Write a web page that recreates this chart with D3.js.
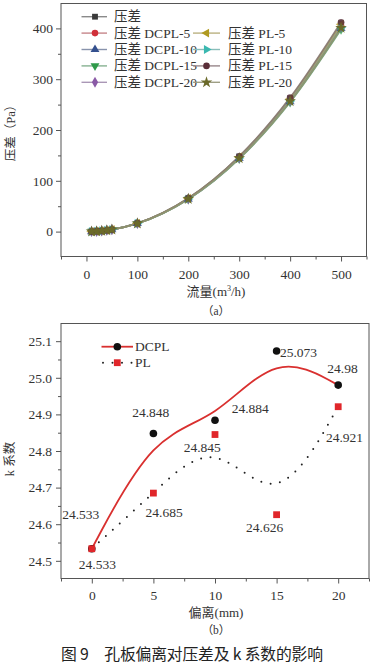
<!DOCTYPE html>
<html><head><meta charset="utf-8">
<script src="https://cdn.jsdelivr.net/npm/d3@7"></script>
<style>
body{margin:0;background:#fff;}
svg{display:block;}
svg text{font-family:"Liberation Serif","DejaVu Serif","Noto Sans CJK SC",serif !important;fill:#333;}
svg text.cap{font-family:"Noto Sans CJK SC",sans-serif !important;fill:#222;}
</style></head><body>
<svg id="c" width="379" height="669"></svg>
<script>
// ---- Data (a) ----
const flow = [10, 20, 30, 40, 50, 100, 200, 300, 400, 500];
const seriesNames = ["压差","压差 DCPL-5","压差 DCPL-10","压差 DCPL-15","压差 DCPL-20","压差 PL-5","压差 PL-10","压差 PL-15","压差 PL-20"];
const dp0    = [0.2, 0.7, 1.5, 2.6, 4.1, 16.4, 65.6, 147.6, 262.4, 410];
const dpD5   = [0.2, 0.7, 1.5, 2.6, 4.0, 16.2, 64.8, 145.8, 259.2, 405];
const dpD10  = [0.2, 0.6, 1.4, 2.6, 4.0, 16.0, 64.0, 144.0, 256.0, 400];
const dpD15  = [0.2, 0.6, 1.4, 2.5, 4.0, 15.9, 63.7, 143.3, 254.7, 398];
const dpD20  = [0.2, 0.6, 1.5, 2.6, 4.0, 16.1, 64.5, 145.1, 257.9, 403];
const dpP5   = [0.2, 0.7, 1.5, 2.6, 4.1, 16.3, 65.3, 146.9, 261.1, 408];
const dpP10  = [0.2, 0.6, 1.4, 2.6, 4.0, 16.1, 64.3, 144.7, 257.3, 402];
const dpP15  = [0.2, 0.7, 1.5, 2.6, 4.1, 16.5, 65.9, 148.3, 263.7, 412];
const dpP20  = [0.2, 0.6, 1.4, 2.6, 4.0, 16.0, 64.2, 144.4, 256.6, 401];
const dpAll = [dp0, dpD5, dpD10, dpD15, dpD20, dpP5, dpP10, dpP15, dpP20];
const xTicksA = [0, 100, 200, 300, 400, 500];
const yTicksA = [0, 100, 200, 300, 400];

// ---- Data (b) ----
const offset = [0, 5, 10, 15, 20];
const kDCPL = [24.533, 24.848, 24.884, 25.073, 24.98];
const kPL   = [24.533, 24.685, 24.845, 24.626, 24.921];
const xTicksB = [0, 5, 10, 15, 20];
const yTicksB = [24.5, 24.6, 24.7, 24.8, 24.9, 25.0, 25.1];

const svg = d3.select("#c");
const axisCol = "#555";

const markColors = ["#3a3a3a","#d0303a","#34508e","#2e9a4a","#8a5aa6","#b09a20","#3ab8b0","#5a2e38","#6b6a2a"];
const symbols = [
  {t:d3.symbolSquare, r:0},{t:d3.symbolCircle, r:0},{t:d3.symbolTriangle, r:0},
  {t:d3.symbolTriangle, r:180},{t:d3.symbolDiamond, r:0},{t:d3.symbolTriangle, r:-90},
  {t:d3.symbolTriangle, r:90},{t:d3.symbolCircle, r:0},{t:d3.symbolStar, r:0}];

// ================= Chart (a) =================
const A = {l:61, r:366.5, t:3.5, b:256.5};
const xA = d3.scaleLinear().domain([-50, 550]).range([A.l, A.r]);
const yA = d3.scaleLinear().domain([-49, 449]).range([A.b, A.t]);
const gA = svg.append("g");

gA.append("rect").attr("x",A.l).attr("y",A.t).attr("width",A.r-A.l).attr("height",A.b-A.t)
  .attr("fill","none").attr("stroke",axisCol).attr("stroke-width",1);

gA.append("g").attr("transform",`translate(0,${A.b})`)
  .call(d3.axisBottom(xA).tickValues(xTicksA).tickSize(5).tickPadding(8).tickFormat(d3.format("d")));
gA.append("g").attr("transform",`translate(0,${A.b})`)
  .call(d3.axisBottom(xA).tickValues(d3.range(-50, 551, 50).filter(v=>!xTicksA.includes(v))).tickSize(3).tickFormat(""));
gA.append("g").attr("transform",`translate(${A.l},0)`)
  .call(d3.axisLeft(yA).tickValues(yTicksA).tickSize(5).tickPadding(3).tickFormat(d3.format("d")));
gA.append("g").attr("transform",`translate(${A.l},0)`)
  .call(d3.axisLeft(yA).tickValues([50,150,250,350]).tickSize(3).tickFormat(""));
gA.selectAll(".domain").remove();
gA.selectAll(".tick line").attr("stroke",axisCol);
gA.selectAll(".tick text").attr("font-size",13.5);

const lineA = d3.line().x((d,i)=>xA(flow[i])).y(d=>yA(d)).curve(d3.curveMonotoneX);
dpAll.forEach((s,k)=>{
  gA.append("path").attr("d",lineA(s)).attr("fill","none")
    .attr("stroke", d3.interpolateRgb(markColors[k], "#a8ad98")(0.6)).attr("stroke-width",1.7).attr("opacity",0.9);
});
dpAll.forEach((s,k)=>{
  const sym = d3.symbol().type(symbols[k].t).size(k===8?42:36);
  gA.append("g").selectAll("path").data(s).join("path")
    .attr("d",sym)
    .attr("transform",(d,i)=>`translate(${xA(flow[i])},${yA(d)}) rotate(${symbols[k].r})`)
    .attr("fill",markColors[k]).attr("opacity",k===8?1:0.8);
});

// legend (a)
const legA = gA.append("g");
const legPos = [
  {c:0,r:0},{c:0,r:1},{c:0,r:2},{c:0,r:3},{c:0,r:4},
  {c:1,r:1},{c:1,r:2},{c:1,r:3},{c:1,r:4}];
const colX = [{l1:81.5,m:95,l2:107,t:114},{l1:193,m:206.5,l2:220,t:228}];
seriesNames.forEach((n,k)=>{
  const p = legPos[k], c = colX[p.c];
  const y = 16.7 + p.r*16.4;
  legA.append("line").attr("x1",c.l1).attr("x2",c.l2).attr("y1",y).attr("y2",y)
    .attr("stroke", d3.interpolateRgb(markColors[k], "#c0c0c0")(0.6)).attr("stroke-width",1.4);
  legA.append("path").attr("d",d3.symbol().type(symbols[k].t).size(k===8?42:34)())
    .attr("transform",`translate(${c.m},${y}) rotate(${symbols[k].r})`).attr("fill",markColors[k]);
  legA.append("text").attr("x",c.t).attr("y",y+4.5).attr("font-size",13.5).text(n);
});

svg.append("text").attr("transform",`translate(15,${(A.t+A.b)/2}) rotate(-90)`)
  .attr("text-anchor","middle").attr("font-size",12.5).text("压差（Pa）");
const xtA = svg.append("text").attr("x",216).attr("y",296).attr("text-anchor","middle").attr("font-size",13);
xtA.append("tspan").text("流量(m");
xtA.append("tspan").attr("font-size",8).attr("dy",-5).text("3");
xtA.append("tspan").attr("dy",5).text("/h)");
svg.append("text").attr("x",216).attr("y",315).attr("text-anchor","middle").attr("font-size",11.5).text("（a）");

// ================= Chart (b) =================
const B = {l:61, r:369, t:323.5, b:578.5};
const xB = d3.scaleLinear().domain([-2.5, 22.5]).range([B.l, B.r]);
const yB = d3.scaleLinear().domain([24.4517, 25.1483]).range([B.b, B.t]);
const gB = svg.append("g");
gB.append("rect").attr("x",B.l).attr("y",B.t).attr("width",B.r-B.l).attr("height",B.b-B.t)
  .attr("fill","none").attr("stroke",axisCol).attr("stroke-width",1);
gB.append("g").attr("transform",`translate(0,${B.b})`)
  .call(d3.axisBottom(xB).tickValues(xTicksB).tickSize(5).tickPadding(7).tickFormat(d3.format("d")));
gB.append("g").attr("transform",`translate(0,${B.b})`)
  .call(d3.axisBottom(xB).tickValues([-2.5,2.5,7.5,12.5,17.5,22.5]).tickSize(3).tickFormat(""));
gB.append("g").attr("transform",`translate(${B.l},0)`)
  .call(d3.axisLeft(yB).tickValues(yTicksB).tickSize(5).tickPadding(4).tickFormat(d3.format(".1f")));
gB.append("g").attr("transform",`translate(${B.l},0)`)
  .call(d3.axisLeft(yB).tickValues([24.55,24.65,24.75,24.85,24.95,25.05]).tickSize(3).tickFormat(""));
gB.selectAll(".domain").remove();
gB.selectAll(".tick line").attr("stroke",axisCol);
gB.selectAll(".tick text").attr("font-size",13.5);

const red = "#d9302f";
const lineB = d3.line().x((d,i)=>xB(offset[i])).y(d=>yB(d)).curve(d3.curveBasis);
gB.append("path").attr("d",lineB(kDCPL)).attr("fill","none").attr("stroke",red).attr("stroke-width",1.8);
gB.append("path").attr("d",lineB(kPL)).attr("fill","none").attr("stroke","#222")
  .attr("stroke-width",2).attr("stroke-dasharray","0,9.5").attr("stroke-linecap","round");

gB.append("g").selectAll("circle").data(kDCPL).join("circle")
  .attr("cx",(d,i)=>xB(offset[i])).attr("cy",d=>yB(d)).attr("r",3.8).attr("fill","#111");
gB.append("g").selectAll("rect").data(kPL).join("rect")
  .attr("x",(d,i)=>xB(offset[i])-3.4).attr("y",d=>yB(d)-3.4).attr("width",6.8).attr("height",6.8).attr("fill","#e0262a");

// value labels (offsets relative to the data point)
const labD = [
  {dx:-11,dy:-34.6,a:"middle"},{dx:-2.6,dy:-21.3,a:"middle"},{dx:16.7,dy:-11.6,a:"start"},{dx:3.3,dy:1,a:"start"},{dx:4.3,dy:-16.3,a:"middle"}];
const labP = [
  {dx:5.6,dy:16,a:"middle"},{dx:10.7,dy:19,a:"middle"},{dx:-12.7,dy:12.5,a:"middle"},{dx:-12,dy:13,a:"middle"},{dx:-12.3,dy:30.4,a:"start"}];
kDCPL.forEach((v,i)=>{
  const o = labD[i];
  gB.append("text").attr("x",xB(offset[i])+o.dx).attr("y",yB(v)+o.dy+4.6)
    .attr("text-anchor",o.a).attr("font-size",13.5).text(String(v));
});
kPL.forEach((v,i)=>{
  const o = labP[i];
  gB.append("text").attr("x",xB(offset[i])+o.dx).attr("y",yB(v)+o.dy+4.6)
    .attr("text-anchor",o.a).attr("font-size",13.5).text(String(v));
});

// legend (b)
gB.append("line").attr("x1",101.5).attr("x2",133).attr("y1",346.7).attr("y2",346.7).attr("stroke",red).attr("stroke-width",1.8);
gB.append("circle").attr("cx",117.3).attr("cy",346.7).attr("r",3.8).attr("fill","#111");
gB.append("text").attr("x",135).attr("y",351.4).attr("font-size",13.5).text("DCPL");
gB.append("line").attr("x1",103).attr("x2",133).attr("y1",362.7).attr("y2",362.7).attr("stroke","#222")
  .attr("stroke-width",2).attr("stroke-dasharray","0,9.5").attr("stroke-linecap","round");
gB.append("rect").attr("x",113.9).attr("y",359.3).attr("width",6.8).attr("height",6.8).attr("fill","#e0262a");
gB.append("text").attr("x",135).attr("y",367.4).attr("font-size",13.5).text("PL");

svg.append("text").attr("transform",`translate(14,${(B.t+B.b)/2+8}) rotate(-90)`)
  .attr("text-anchor","middle").attr("font-size",12.5).text("k 系数");
svg.append("text").attr("x",216).attr("y",617).attr("text-anchor","middle").attr("font-size",13).text("偏离(mm)");
svg.append("text").attr("x",216).attr("y",634).attr("text-anchor","middle").attr("font-size",11.5).text("（b）");

svg.append("text").attr("class","cap").attr("x",61).attr("y",660).attr("font-size",15.8)
  .attr("font-weight",400).attr("textLength",262).attr("lengthAdjust","spacing")
  .text("图 9　孔板偏离对压差及 k 系数的影响");
</script>
</body></html>
